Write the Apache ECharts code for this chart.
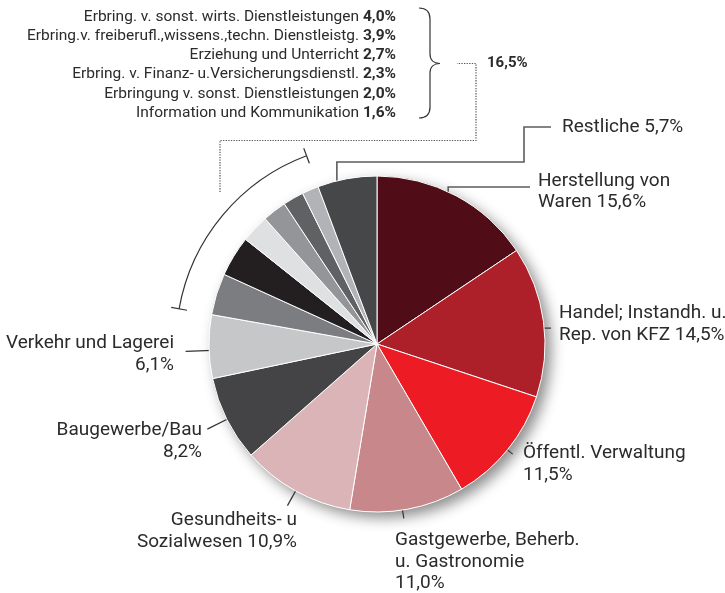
<!DOCTYPE html>
<html>
<head>
<meta charset="utf-8">
<script src="https://cdn.jsdelivr.net/npm/echarts@6/dist/echarts.min.js"></script>
<style>html,body{margin:0;padding:0;background:#fff}#chart{width:725px;height:593px}</style>
</head>
<body>
<div id="chart"></div>
<script>
// ---------- DATA ----------
const categories = [
  'Herstellung von Waren',
  'Handel; Instandh. u. Rep. von KFZ',
  'Öffentl. Verwaltung',
  'Gastgewerbe, Beherb. u. Gastronomie',
  'Gesundheits- u Sozialwesen',
  'Baugewerbe/Bau',
  'Verkehr und Lagerei',
  'Erbring. v. sonst. wirts. Dienstleistungen',
  'Erbring.v. freiberufl.,wissens.,techn. Dienstleistg.',
  'Erziehung und Unterricht',
  'Erbring. v. Finanz- u.Versicherungsdienstl.',
  'Erbringung v. sonst. Dienstleistungen',
  'Information und Kommunikation',
  'Restliche'
];
const values = [15.6, 14.5, 11.5, 11.0, 10.9, 8.2, 6.1, 4.0, 3.9, 2.7, 2.3, 2.0, 1.6, 5.7];
// label text as printed beside the slices (null = listed in the top block)
const labelNames = [
  'Herstellung von\nWaren', 'Handel; Instandh. u.\nRep. von KFZ', 'Öffentl. Verwaltung',
  'Gastgewerbe, Beherb.\nu. Gastronomie', 'Gesundheits- u\nSozialwesen', 'Baugewerbe/Bau',
  'Verkehr und Lagerei', null, null, null, null, null, null, 'Restliche'
];
const valueSeparators = [' ', ' ', '\n', '\n', ' ', '\n', '\n', ' ', ' ', ' ', ' ', ' ', ' ', ' '];
const groupStart = 7, groupEnd = 13; // indices of the small grouped sectors

// ---------- STYLE / LAYOUT ----------
const colors = ['#500c17', '#ae2029', '#ed1c24', '#c8878a', '#dab4b6', '#444446', '#c6c7c9',
  '#7c7d80', '#231f20', '#dfe0e1', '#939598', '#606163', '#b1b3b6', '#464749'];
const CX = 377, CY = 344, R = 168;
const FONT = 'Roboto';
const TEXT_COLOR = '#2b2b2b';
const labelLayouts = {
  0: {x: 538, y: 170, align: 'left', kind: 'elbow', r0: 0.9, turnY: 187, endX: 530},
  1: {x: 559, y: 302.5, align: 'left', kind: 'horiz', r0: 0.87, shift: 1.5, endX: 551},
  2: {x: 523, y: 442.5, align: 'left', kind: 'radial', r0: 0.89, r1: 1.04},
  3: {x: 395, y: 529.5, align: 'left', kind: 'radial', r0: 0.91, r1: 1.05, shift: 1.7},
  4: {x: 297, y: 509.5, align: 'right', kind: 'radial', r0: 0.95, r1: 1.1},
  5: {x: 202, y: 419.5, align: 'right', kind: 'radial', r0: 0.965, r1: 1.13},
  6: {x: 174, y: 332.5, align: 'right', kind: 'radial', r0: 0.98, r1: 1.14, shift: -1.3},
  13: {x: 562, y: 116.5, align: 'left', kind: 'steps', r0: 0.95, shift: -4.3, turnY: 162, turnX: 524, endY: 127, endX: 551}
};

// ---------- helpers ----------
const fmt = v => v.toFixed(1).replace('.', ',') + '%';
const total = values.reduce((a, b) => a + b, 0);
const cum = [];
values.reduce((acc, v, i) => { cum[i] = acc; return acc + v; }, 0);
const startAngleOf = i => cum[i] / total * 360;
const midAngleOf = i => (cum[i] + values[i] / 2) / total * 360;
const polar = (deg, r) => {
  const a = deg * Math.PI / 180;
  return [CX + r * Math.sin(a), CY - r * Math.cos(a)];
};

function layoutLabel(p) {
  const L = labelLayouts[p.dataIndex];
  if (!L) return {};
  const ang = midAngleOf(p.dataIndex) + (L.shift || 0);
  const inner = polar(ang, L.r0 * R);
  let pts;
  if (L.kind === 'radial') pts = [inner, polar(ang, L.r1 * R)];
  else if (L.kind === 'horiz') pts = [inner, [L.endX, inner[1]]];
  else if (L.kind === 'elbow') pts = [inner, [inner[0], L.turnY], [L.endX, L.turnY]];
  else pts = [inner, [inner[0], L.turnY], [L.turnX, L.turnY], [L.turnX, L.endY], [L.endX, L.endY]];
  return {x: L.x, y: L.y, align: L.align, verticalAlign: 'top', labelLinePoints: pts};
}

const pieData = categories.map((c, i) => {
  const has = labelNames[i] != null;
  const strong = (i === 0 || i === 13);
  return {
    name: c, value: values[i],
    itemStyle: {color: colors[i]},
    label: {show: has},
    labelLine: {show: has, lineStyle: strong ? {color: '#5c5c5c', width: 1.6} : {color: '#333', width: 1.2}}
  };
});

// grouped block (top left)
const graphics = [];
const g0 = startAngleOf(groupStart), g1 = startAngleOf(groupEnd);
const toRad = d => (d - 90) * Math.PI / 180;
graphics.push({type: 'arc', shape: {cx: CX, cy: CY, r: 201, startAngle: toRad(g0), endAngle: toRad(g1), clockwise: true},
  style: {stroke: '#333', lineWidth: 1.2, fill: null}, silent: true});
[g0, g1].forEach(a => {
  const p1 = polar(a, 193), p2 = polar(a, 209);
  graphics.push({type: 'line', shape: {x1: p1[0], y1: p1[1], x2: p2[0], y2: p2[1]}, style: {stroke: '#333', lineWidth: 1.2}, silent: true});
});
graphics.push({type: 'polyline', shape: {points: [[220, 192], [220, 140.5], [476, 140.5], [476, 63.5], [457, 63.5]]},
  style: {stroke: '#555', lineWidth: 1.2, lineDash: [1.3, 1.3], fill: null}, silent: true});
// brace
const bs = {stroke: '#333', lineWidth: 1.2, fill: null};
graphics.push({type: 'bezierCurve', shape: {x1: 419, y1: 8, x2: 430, y2: 19, cpx1: 427, cpy1: 8, cpx2: 430, cpy2: 12}, style: bs, silent: true});
graphics.push({type: 'line', shape: {x1: 430, y1: 19, x2: 430, y2: 54}, style: bs, silent: true});
graphics.push({type: 'bezierCurve', shape: {x1: 430, y1: 54, x2: 440, y2: 63.5, cpx1: 430, cpy1: 60, cpx2: 434, cpy2: 63.5}, style: bs, silent: true});
graphics.push({type: 'bezierCurve', shape: {x1: 440, y1: 63.5, x2: 430, y2: 73, cpx1: 434, cpy1: 63.5, cpx2: 430, cpy2: 67}, style: bs, silent: true});
graphics.push({type: 'line', shape: {x1: 430, y1: 73, x2: 430, y2: 107}, style: bs, silent: true});
graphics.push({type: 'bezierCurve', shape: {x1: 430, y1: 107, x2: 419, y2: 118, cpx1: 430, cpy1: 114, cpx2: 427, cpy2: 118}, style: bs, silent: true});

const TOP_SIZE = 15.5;
const richTop = {
  n: {fontFamily: FONT, fontSize: TOP_SIZE, color: TEXT_COLOR},
  b: {fontFamily: FONT, fontSize: TOP_SIZE, fontWeight: 'bold', color: TEXT_COLOR}
};
for (let i = groupStart; i < groupEnd; i++) {
  graphics.push({type: 'text', x: 396, y: 17 + (i - groupStart) * 19.2, silent: true,
    style: {text: '{n|' + categories[i] + '} {b|' + fmt(values[i]) + '}', rich: richTop,
      align: 'right', verticalAlign: 'middle', fontFamily: FONT, fontSize: TOP_SIZE, fill: TEXT_COLOR}});
}
const groupSum = values.slice(groupStart, groupEnd).reduce((a, b) => a + b, 0);
graphics.push({type: 'text', x: 487, y: 63.5, silent: true,
  style: {text: fmt(groupSum), align: 'left', verticalAlign: 'middle', fontFamily: FONT, fontSize: 15, fontWeight: 'bold', fill: TEXT_COLOR}});

const chart = echarts.init(document.getElementById('chart'), null, {renderer: 'canvas'});
chart.setOption({
  backgroundColor: '#fff',
  animation: false,
  graphic: {elements: graphics},
  series: [
    {
      type: 'pie', center: [CX, CY], radius: R, silent: true, z: 1,
      label: {show: false}, labelLine: {show: false},
      itemStyle: {color: '#fff', shadowBlur: 14, shadowColor: 'rgba(0,0,0,0.45)', shadowOffsetX: 6, shadowOffsetY: 6},
      data: [{value: 1}]
    },
    {
      type: 'pie', center: [CX, CY], radius: R, startAngle: 90, clockwise: true, z: 2,
      avoidLabelOverlap: false, minShowLabelAngle: 0, silent: true,
      itemStyle: {borderColor: '#fff', borderWidth: 1},
      label: {
        show: true, position: 'outside',
        formatter: p => labelNames[p.dataIndex] + valueSeparators[p.dataIndex] + fmt(values[p.dataIndex]),
        color: TEXT_COLOR, fontFamily: FONT, fontSize: 19, lineHeight: 21.5
      },
      labelLine: {show: true, length: 5, length2: 5, smooth: false},
      labelLayout: layoutLabel,
      data: pieData
    }
  ]
});
</script>
</body>
</html>
